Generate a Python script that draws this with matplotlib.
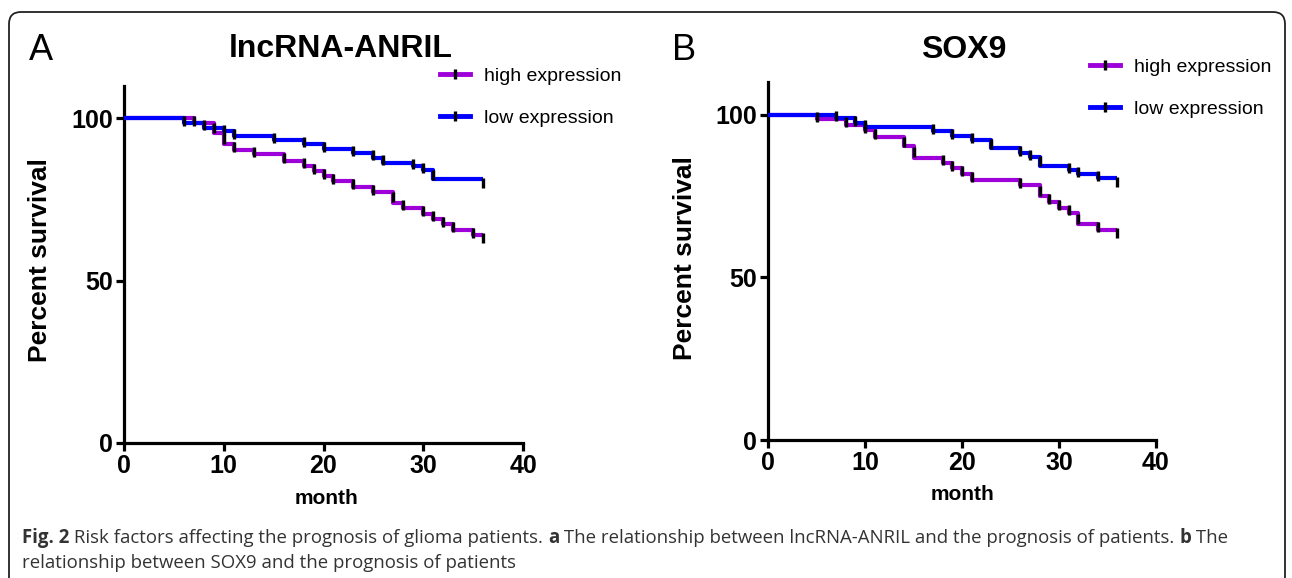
import matplotlib
matplotlib.use('Agg')
import matplotlib.pyplot as plt
from matplotlib.lines import Line2D
from matplotlib.patches import FancyBboxPatch
from matplotlib.transforms import IdentityTransform

# ---- data (month, percent survival after each step) ----
a_high_t = [7, 9, 10, 11, 13, 16, 18, 19, 20, 21, 23, 25, 27, 28, 30, 31, 32, 33, 35]
a_high_s = [98.6, 95.5, 92.0, 90.4, 88.9, 87.0, 85.3, 83.8, 82.2, 80.6, 78.9, 77.3,
            74.0, 72.4, 70.7, 68.9, 67.4, 65.6, 64.1]
a_low_t = [6, 8, 10, 11, 15, 18, 20, 23, 25, 26, 29, 30, 31]
a_low_s = [98.6, 97.1, 96.0, 94.7, 93.3, 92.0, 90.7, 89.3, 87.9, 86.4, 85.3, 84.0, 81.2]

b_high_t = [5, 8, 10, 11, 14, 15, 18, 19, 20, 21, 26, 28, 29, 30, 31, 32, 34]
b_high_s = [98.5, 96.9, 95.1, 93.1, 90.3, 86.8, 85.1, 83.5, 81.7, 79.9, 78.2, 75.0,
            73.2, 71.4, 69.7, 66.3, 64.6]
b_low_t = [7, 9, 10, 17, 19, 21, 23, 26, 27, 28, 31, 32, 34]
b_low_s = [98.8, 97.4, 96.1, 94.8, 93.5, 92.3, 89.6, 88.3, 87.1, 84.2, 83.0, 81.7, 80.4]

end_month = 36
x_ticks = [0, 10, 20, 30, 40]
y_ticks = [0, 50, 100]
series_labels = ['high expression', 'low expression']
panel_titles = ['lncRNA-ANRIL', 'SOX9']

PURPLE = '#9d00d8'
BLUE = '#0000ff'
W, H = 1292, 578
FONT = 'Liberation Sans'


def fx(px):
    return px / W


def fy(py):
    return 1 - py / H


def km_curve(ax, t, s, color):
    xs = [0] + t + [end_month]
    ys = [100] + s + [s[-1]]
    ax.plot(xs, ys, drawstyle='steps-post', color=color, lw=3, solid_capstyle='butt',
            zorder=3)
    prev = [100] + s[:-1]
    mids = [(a + b) / 2 for a, b in zip(prev, s)]
    ax.plot(t + [end_month], mids + [s[-1] - 1], ls='none', marker='|', color='k',
            ms=7, mew=2.4, zorder=4)


def style_axes(ax):
    ax.set_xlim(0, 40)
    ax.set_ylim(0, 110)
    ax.set_xticks(x_ticks)
    ax.set_yticks(y_ticks)
    for side in ['top', 'right']:
        ax.spines[side].set_visible(False)
    for side in ['left', 'bottom']:
        ax.spines[side].set_linewidth(2.3)
    ax.tick_params(direction='out', length=6, width=2.3, pad=2)
    for lab in ax.get_xticklabels() + ax.get_yticklabels():
        lab.set_fontfamily(FONT)
        lab.set_fontweight('bold')
        lab.set_fontsize(18)
    ax.set_xlabel('month', fontfamily=FONT, fontweight='bold', fontsize=15)
    ax.set_ylabel('Percent survival', fontfamily=FONT, fontweight='bold', fontsize=19)
    ax.patch.set_alpha(0)


fig = plt.figure(figsize=(W / 100, H / 100), dpi=100)

# outer rounded frame
bg = fig.add_axes([0, 0, 1, 1], zorder=-1)
bg.set_xlim(0, W)
bg.set_ylim(H, 0)
bg.axis('off')
bg.add_patch(FancyBboxPatch((9, 12), 1276, 700, boxstyle='round,pad=0,rounding_size=12',
                            fc='white', ec='#222222', lw=1.3))

axA = fig.add_axes([fx(124), fy(443), fx(523) - fx(124), fy(86) - fy(443)])
km_curve(axA, a_high_t, a_high_s, PURPLE)
km_curve(axA, a_low_t, a_low_s, BLUE)
style_axes(axA)

axB = fig.add_axes([fx(768), fy(440), fx(1156) - fx(768), fy(82) - fy(440)])
km_curve(axB, b_high_t, b_high_s, PURPLE)
km_curve(axB, b_low_t, b_low_s, BLUE)
style_axes(axB)

# axis label positions (figure coords)
axA.yaxis.set_label_coords(fx(52), fy(260), transform=fig.transFigure)
axB.yaxis.set_label_coords(fx(697), fy(258), transform=fig.transFigure)
axA.xaxis.set_label_coords(fx(326), fy(489), transform=fig.transFigure)
axB.xaxis.set_label_coords(fx(963), fy(485), transform=fig.transFigure)

# titles and panel letters
fig.text(fx(341), fy(49), panel_titles[0], ha='center', va='center', fontfamily=FONT,
         fontweight='bold', fontsize=23)
fig.text(fx(964), fy(50), panel_titles[1], ha='center', va='center', fontfamily=FONT,
         fontweight='bold', fontsize=23)
fig.text(fx(41), fy(50), 'A', ha='center', va='center', fontfamily=FONT, fontsize=26)
fig.text(fx(684), fy(50), 'B', ha='center', va='center', fontfamily=FONT, fontsize=26)

# legends
handles = [Line2D([], [], color=c, lw=3.5, marker='|', mec='k', ms=7, mew=2.4)
           for c in (PURPLE, BLUE)]
for ax, (lx, ly) in ((axA, (440, 67)), (axB, (1090, 58))):
    ax.legend(handles, series_labels, loc='upper left', bbox_to_anchor=(fx(lx), fy(ly)),
              bbox_transform=fig.transFigure, frameon=False, borderpad=0,
              borderaxespad=0, handlelength=1.55, handletextpad=0.7, labelspacing=1.27,
              prop={'family': FONT, 'size': 14})

# caption with bold runs
renderer = fig.canvas.get_renderer()


def draw_runs(x, y, runs):
    for txt, weight in runs:
        t = fig.text(x, y, txt, transform=IdentityTransform(), ha='left', va='baseline',
                     fontfamily='Open Sans', fontweight=weight, fontsize=13.4,
                     color='#333333')
        x += t.get_window_extent(renderer).width


draw_runs(22, H - 543, [('Fig. 2', 'bold'),
                        (' Risk factors affecting the prognosis of glioma patients. ', 'normal'),
                        ('a', 'bold'),
                        (' The relationship between lncRNA-ANRIL and the prognosis of patients. ', 'normal'),
                        ('b', 'bold'), (' The', 'normal')])
draw_runs(22, H - 568, [('relationship between SOX9 and the prognosis of patients', 'normal')])

fig.savefig('out.png', dpi=100)
